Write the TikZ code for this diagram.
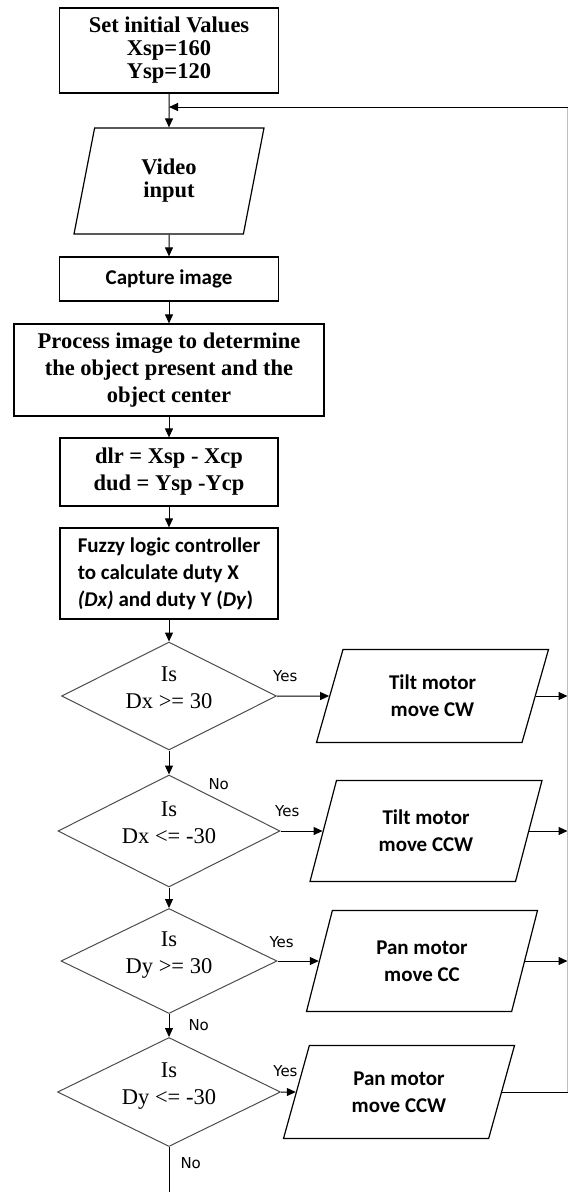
\documentclass[tikz,border=0pt]{standalone}
\usepackage{fontspec}
\setmainfont{Liberation Serif}
\newfontfamily\calibri{Carlito}
\newfontfamily\labelfont{DejaVu Sans}
\usetikzlibrary{shapes.geometric,arrows.meta,positioning}

\begin{document}
\begin{tikzpicture}[node distance=100pt, line width=1pt, >={Triangle[length=9pt,width=8pt]},
    box/.style={draw, rectangle, line width=1.2pt, align=center, inner sep=2pt},
    io/.style={draw, trapezium, trapezium left angle=60, trapezium right angle=120,
        trapezium stretches body=true, line width=1.2pt, align=center, inner sep=2pt},
    test/.style={draw=black!70, diamond, aspect=2, inner sep=0pt, align=center, line width=1pt,
        font=\fontsize{22.5}{27}\selectfont},
    serifb/.style={font=\fontsize{22.5}{23}\selectfont\bfseries},
    serifc/.style={font=\fontsize{22.5}{27}\selectfont\bfseries},
    calib/.style={font=\calibri\bfseries\fontsize{21}{27}\selectfont},
    lbl/.style={font=\labelfont\fontsize{15}{15}\selectfont, inner sep=1pt}]
    \useasboundingbox (0pt,0pt) rectangle (569pt,-1192pt);

    % main column
    \node[box, serifb, minimum width=219pt, minimum height=85pt] (init) at (169pt,-50.5pt) {Set initial Values\\Xsp=160\\Ysp=120};
    \coordinate[below of=init, node distance=56.5pt] (back);
    \node[io, serifb, trapezium left angle=66.5, trapezium right angle=113.5, minimum width=190pt, minimum height=106pt] (video) [below of=init, node distance=130.5pt] {Video\\input};
    \node[box, calib, minimum width=219pt, minimum height=44pt] (capture) [below of=video, node distance=98pt] {Capture image};
    \node[box, serifc, minimum width=310pt, minimum height=92pt] (process) [below of=capture, node distance=91pt] {Process image to determine\\the object present and the\\object center};
    \node[box, serifc, minimum width=218pt, minimum height=68pt] (diff) [below of=process, node distance=102pt] {dlr = Xsp - Xcp\\dud = Ysp -Ycp};
    \node[box, calib, align=left, minimum width=218pt, minimum height=91pt] (fuzzy) [below of=diff, node distance=101.5pt] {Fuzzy logic controller\\to calculate duty X\\\textit{(Dx)} and duty Y (\textit{Dy})};

    % decisions
    \node[test, minimum width=215pt, minimum height=108pt] (d1) [below of=fuzzy, node distance=122.5pt] {Is\\Dx >= 30\\[-10pt]\mbox{}};
    \node[test, minimum width=222pt, minimum height=112pt] (d2) [below of=d1, node distance=135pt] {Is\\Dx <= -30\\[-10pt]\mbox{}};
    \node[test, minimum width=216pt, minimum height=105pt] (d3) [below of=d2, node distance=130pt] {Is\\Dy >= 30\\[-10pt]\mbox{}};
    \node[test, minimum width=223pt, minimum height=109pt] (d4) [below of=d3, node distance=131pt] {Is\\Dy <= -30\\[-10pt]\mbox{}};
    \coordinate[below of=d4, node distance=100pt] (stop);

    % motors
    \node[io, calib, minimum width=232pt, minimum height=93pt] (tiltcw) [right of=d1, node distance=263.5pt] {Tilt motor\\move CW};
    \node[io, calib, minimum width=232pt, minimum height=101pt] (tiltccw) [right of=d2, node distance=257pt] {Tilt motor\\move CCW};
    \node[io, calib, minimum width=231pt, minimum height=101pt] (pancc) [right of=d3, node distance=253pt] {Pan motor\\move CC};
    \node[io, calib, minimum width=231pt, minimum height=93pt] (panccw) [right of=d4, node distance=230pt] {Pan motor\\move CCW};
    \coordinate (ret) at (567.5pt,-107pt);

    \draw[->] (init) -- (video);
    \draw[->] (video) -- (capture);
    \draw[->] (capture) -- (process);
    \draw[->] (process) -- (diff);
    \draw[->] (diff) -- (fuzzy);
    \draw[->] (fuzzy) -- (d1);
    \draw[->] (d1) -- (d2);
    \draw[->] (d2) -- (d3);
    \draw[->] (d3) -- node[lbl, right=18pt] (no2) {No} (d4);
    \draw (d4) -- node[lbl, right=10pt, pos=0.35] (no3) {No} (stop);
    \node[lbl] (no1) [below right=3pt and 38pt of d2.north] {No};

    \draw[->] (d1) -- node[lbl, above=13pt, pos=0.16] (yes1) {Yes} (tiltcw);
    \draw[->] (d2) -- node[lbl, above=13pt, pos=0.16] (yes2) {Yes} (tiltccw);
    \draw[->] (d3) -- node[lbl, above=12pt, pos=0.1] (yes3) {Yes} (pancc);
    \draw[->] (d4) -- node[lbl, above=14pt, pos=0.3] (yes4) {Yes} (panccw);

    % back to the video input
    \draw[->] (tiltcw.east) -- (tiltcw.east -| ret);
    \draw[->] (tiltccw.east) -- (tiltccw.east -| ret);
    \draw[->] (pancc.east) -- (pancc.east -| ret);
    \draw (panccw.east) -- (panccw.east -| ret);
    \draw[black!25] (panccw.east -| ret) -- (ret);
    \draw[->] (ret) -- (back);
\end{tikzpicture}
\end{document}
